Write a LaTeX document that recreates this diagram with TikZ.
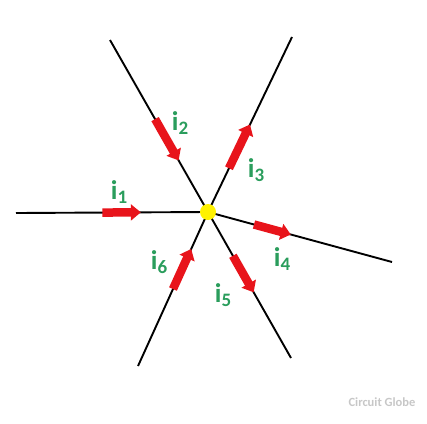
\documentclass[tikz,border=0pt]{standalone}
\usepackage{fontspec}
\setmainfont{Carlito}
\usetikzlibrary{arrows.meta,calc}
\definecolor{lblgreen}{HTML}{2A9D5C}
\definecolor{arrred}{HTML}{E8141B}
\newcommand{\curlbl}[1]{{\bfseries\fontsize{27}{27}\selectfont i\raisebox{-4pt}{\fontsize{19}{19}\selectfont #1}}}
\begin{document}
\begin{tikzpicture}[x=1pt,y=-1pt,
  wire/.style={line width=1.9pt,black},
  curarr/.style={line width=8.5pt,arrred,-{Triangle[length=10pt,width=16pt]}},
  lbl/.style={text=lblgreen,inner sep=0pt},
  junction/.style={circle,fill=yellow,minimum size=16pt,inner sep=0pt}]
\useasboundingbox (0,0) rectangle (427,423);
\coordinate (C) at (208,212);
\coordinate (E1) at (16,213);
\coordinate (E2) at (110,40);
\coordinate (E3) at (292,37);
\coordinate (E4) at (392,262);
\coordinate (E5) at (291,358);
\coordinate (E6) at (138,366);
\foreach \e in {E1,E2,E3,E4,E5,E6} \draw[wire] (C) -- (\e);
\node[junction] (J) at (C) {};
% current arrows
\draw[curarr] ($(C)!0.55!(E1)$) -- ($(C)!0.35!(E1)$);
\draw[curarr] ($(C)!0.54!(E2)$) -- ($(C)!0.30!(E2)$);
\draw[curarr] ($(C)!0.25!(E3)$) -- ($(C)!0.50!(E3)$);
\draw[curarr] ($(C)!0.25!(E4)$) -- ($(C)!0.45!(E4)$);
\draw[curarr] ($(C)!0.30!(E5)$) -- ($(C)!0.55!(E5)$);
\draw[curarr] ($(C)!0.50!(E6)$) -- ($(C)!0.24!(E6)$);
% labels
\node[lbl] (L1) at (119,192) {\curlbl{1}};
\node[lbl] (L2) at (180,123) {\curlbl{2}};
\node[lbl] (L3) at (256,170) {\curlbl{3}};
\node[lbl] (L4) at (282,259) {\curlbl{4}};
\node[lbl] (L5) at (223,295) {\curlbl{5}};
\node[lbl] (L6) at (159,262) {\curlbl{6}};
\node[text=black!22,font=\bfseries\fontsize{12.5}{12.5}\selectfont] (W) at (382,402) {Circuit Globe};
\end{tikzpicture}
\end{document}
